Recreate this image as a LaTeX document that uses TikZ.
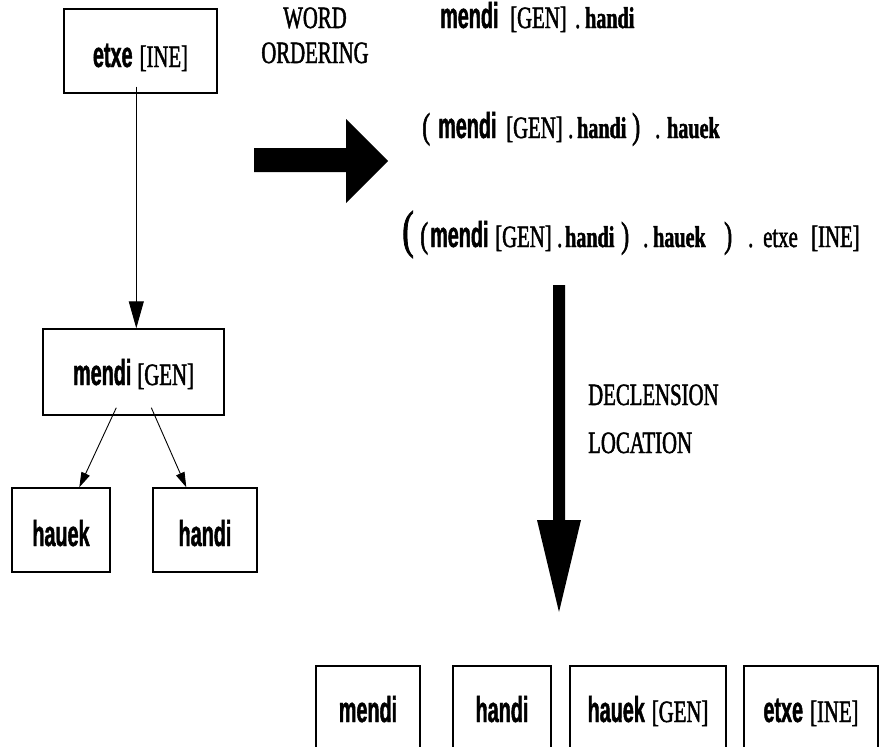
\documentclass[tikz,border=0pt]{standalone}
\usepackage{fontspec}
\usetikzlibrary{arrows.meta,calc}

% word forms: heavy narrow sans; case tags and labels: narrow serif
\newfontfamily\wsans{Liberation Sans}[FakeStretch=0.55,FakeBold=1.2]
\newfontfamily\wserif{Liberation Serif}[FakeStretch=0.67,FakeBold=1.5]
\newcommand\lexw[1]{{\wsans\bfseries\fontsize{36}{38}\selectfont #1}}
\newcommand\casetag[1]{{\wserif\fontsize{31}{33}\selectfont #1}}
\newcommand\lexs[1]{{\wserif\bfseries\fontsize{30}{32}\selectfont #1}}
\newcommand\lpar[2]{{\wserif\fontsize{#1}{#1}\selectfont #2}}
% place material at a fixed offset from the start of a line
\newcommand\putat[2]{\rlap{\hskip #1pt\relax #2}}

\tikzset{
  wbox/.style={draw, line width=1.4pt, inner xsep=0pt, inner ysep=0pt, anchor=base},
  treearrow/.style={line width=0.9pt, -{Triangle[length=#1]}},
  plain/.style={inner sep=0pt, anchor=base west},
}

\begin{document}
\begin{tikzpicture}[x=1pt,y=-1pt]
\useasboundingbox (0,0) rectangle (879,747);
\fill[white] (0,0) rectangle (879,747);

% ---- dependency tree
\node[wbox, minimum width=153pt, text height=58pt, text depth=26pt] (etxe) at (140.5,67) {\lexw{etxe}\hspace{7pt}\casetag{[INE]}};
\node[wbox, minimum width=181pt, text height=56pt, text depth=30pt] (mendi) at (133.5,385) {\lexw{mendi}\hspace{6pt}\casetag{[GEN]}};
\node[wbox, minimum width=98pt, text height=58pt, text depth=26pt] (hauek) at (61,546) {\lexw{hauek}};
\node[wbox, minimum width=104pt, text height=58pt, text depth=26pt] (handi) at (205,546) {\lexw{handi}};

\draw[treearrow={27pt,width=15pt}] ($(etxe.south west)+(73,-7)$) -- ($(mendi.north west)+(94,0)$);
\draw[treearrow={15pt,width=9pt}] ($(mendi.south west)+(74,-8)$) -- ($(hauek.north west)+(68,0)$);
\draw[treearrow={15pt,width=9pt}] ($(mendi.south west)+(109,-8)$) -- ($(handi.north west)+(34,0)$);

% ---- word ordering step
\fill (254,148) -- (346,148) -- (346,119) -- (388,161) -- (346,203) -- (346,172) -- (254,172) -- cycle;
\node[inner sep=0pt, anchor=base] (word) at (315,28) {\casetag{WORD}};
\node[inner sep=0pt, anchor=base] (ordering) at (315,63) {\casetag{ORDERING}};

\node[plain] (line1) at (440,28) {%
  \putat{0}{\lexw{mendi}}\putat{70}{\casetag{[GEN]}}\putat{135}{\casetag{.}}\putat{145}{\lexs{handi}}\hspace*{183pt}};
\node[plain] (line2) at (422,138) {%
  \putat{0}{\lpar{36}{(}}\putat{16}{\lexw{mendi}}\putat{84}{\casetag{[GEN]}}\putat{146}{\casetag{.}}%
  \putat{155}{\lexs{handi}}\putat{210}{\lpar{36}{)}}\putat{233}{\casetag{.}}\putat{245}{\lexs{hauek}}\hspace*{296pt}};
\node[plain] (line3) at (402,247) {%
  \putat{0}{\lpar{52}{(}}\putat{18}{\lpar{36}{(}}\putat{28}{\lexw{mendi}}\putat{93}{\casetag{[GEN]}}%
  \putat{155}{\casetag{.}}\putat{163}{\lexs{handi}}\putat{219}{\lpar{36}{)}}\putat{241}{\casetag{.}}%
  \putat{251}{\lexs{hauek}}\putat{322}{\lpar{36}{)}}\putat{346}{\casetag{.}}%
  \putat{361}{\casetag{etxe}}\putat{409}{\casetag{[INE]}}\hspace*{461pt}};

% ---- declension location step
\fill (553,285) -- (565,285) -- (565,520) -- (581,520) -- (559,612) -- (537,520) -- (553,520) -- cycle;
\node[plain] (decl) at (588,405) {\casetag{DECLENSION}};
\node[plain] (loc) at (588,453) {\casetag{LOCATION}};

% ---- resulting word sequence
\node[wbox, minimum width=104pt, text height=56pt, text depth=40pt] (w1) at (368,722) {\lexw{mendi}};
\node[wbox, minimum width=98pt, text height=56pt, text depth=40pt] (w2) at (502,722) {\lexw{handi}};
\node[wbox, minimum width=156pt, text height=56pt, text depth=40pt] (w3) at (648,722) {\lexw{hauek}\hspace{7pt}\casetag{[GEN]}};
\node[wbox, minimum width=134pt, text height=56pt, text depth=40pt] (w4) at (811,722) {\lexw{etxe}\hspace{7pt}\casetag{[INE]}};
\end{tikzpicture}
\end{document}
